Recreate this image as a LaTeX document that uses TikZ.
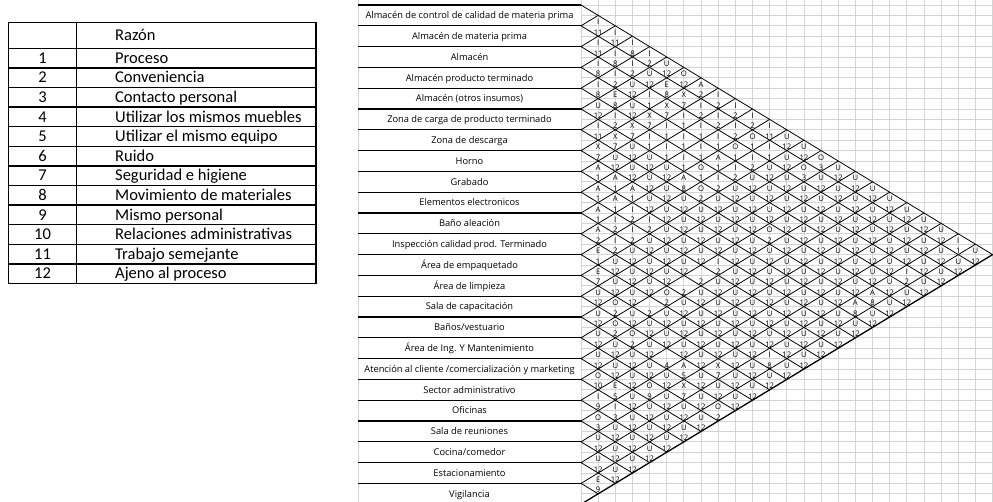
\documentclass[tikz,border=0pt]{standalone}
\usepackage{fontspec}
\setmainfont{Open Sans}
\newfontfamily\calibri{Carlito}

\begin{document}
\begin{tikzpicture}[x=1pt, y=-1pt,
    razon/.style={font=\calibri\fontsize{16.5}{18}\selectfont, inner sep=0pt, text height=10.6pt, text depth=0pt},
    area/.style={font=\fontsize{9.3}{10}\selectfont, inner sep=0pt, text height=6.6pt, text depth=0pt},
    cell/.style={font=\fontsize{7.7}{8}\selectfont, inner sep=0pt, text height=5.5pt, text depth=0pt},
    excel/.style={draw=black!17, line width=0.9pt},
    rule/.style={line width=1.3pt},
    diag/.style={line width=0.8pt}]

  \useasboundingbox (0,0) rectangle (993,502);

  % Reasons table
  \draw[rule] (8.3,22.7) rectangle (316,283.5);
  \draw[rule] (76.7,22.7) -- (76.7,283.5);
  \draw[rule] (8.3,48.3) -- (316,48.3);
  \foreach \r in {1,...,11}
    \draw[rule] (8.3,{48.3+\r*19.6}) -- (316,{48.3+\r*19.6});
  \node[razon, anchor=west] (head) at (115,35.5) {Razón};
  \foreach \t [count=\r] in {Proceso, Conveniencia, Contacto personal, Utilizar los mismos muebles,
      Utilizar el mismo equipo, Ruido, Seguridad e higiene, Movimiento de materiales,
      Mismo personal, Relaciones administrativas, Trabajo semejante, Ajeno al proceso} {
    \node[razon] (n\r) at (42.5,{48.3+(\r-0.5)*19.6}) {\r};
    \node[razon, anchor=west] (r\r) at (115,{48.3+(\r-0.5)*19.6}) {\t};
  }

  % Relationship chart
  \def\xo{581} \def\yo{5} \def\dx{17.15} \def\hh{20.8}
  \foreach \n in {0,...,24}
    \draw[excel] ({\xo+\n*\dx},0) -- ({\xo+\n*\dx},502);
  \foreach \n in {0,...,48}
    \draw[excel] (\xo,{\yo+\n*\hh/2}) -- (993,{\yo+\n*\hh/2});
  \draw[excel] (358,0) -- (358,502);

  \foreach \n in {0,...,24}
    \draw[rule] (358,{\yo+\n*\hh}) -- (\xo,{\yo+\n*\hh});
  \foreach \t [count=\i] in {Almacén de control de calidad de materia prima, Almacén de materia prima,
      Almacén, Almacén producto terminado, Almacén (otros insumos), Zona de carga de producto terminado,
      Zona de descarga, Horno, Grabado, Elementos electronicos, Baño aleación,
      Inspección calidad prod. Terminado, Área de empaquetado, Área de limpieza,
      Sala de capacitación, {Baños/vestuario}, Área de Ing. Y Mantenimiento,
      {Atención al cliente /comercialización y marketing}, Sector administrativo, Oficinas,
      Sala de reuniones, {Cocina/comedor}, Estacionamiento, Vigilancia}
    \node[area] (a\i) at (469.5,{\yo+(\i-0.5)*\hh}) {\t};

  % diamonds
  \foreach \n in {0,...,23}
    \draw[diag] (\xo,{\yo+\n*\hh}) -- ++({(24-\n)*\dx},{(24-\n)*\hh/2});
  \foreach \n in {1,...,23}
    \draw[diag] (\xo,{\yo+\n*\hh}) -- ++({\n*\dx},{-\n*\hh/2});
  \draw[rule] (\xo,{\yo+24*\hh}) -- ++({24*\dx},{-12*\hh});

  % closeness letters and reasons, one text line at a time
  \foreach \m/\row in {
      1/{I},
      2/{11,I},
      3/{I,11,I},
      4/{11,I,8,I},
      5/{I,8,I,2,U},
      6/{8,I,2,U,12,O},
      7/{I,2,U,12,E,12,A},
      8/{8,E,12,I,8,X,2,I},
      9/{U,8,U,1,X,7,I,2,I},
      10/{12,I,12,X,7,I,2,I,2,I},
      11/{I,2,X,7,I,1,I,2,I,2,I},
      12/{11,X,7,I,1,I,1,I,2,O,11,U},
      13/{X,7,U,1,I,1,I,1,O,1,I,12,U},
      14/{7,U,12,U,1,I,1,A,1,I,1,U,12,O},
      15/{A,12,U,12,U,1,O,1,I,2,U,12,O,3,U},
      16/{1,A,12,U,12,A,1,I,2,U,12,U,3,U,12,U},
      17/{A,1,A,12,U,8,O,2,U,12,U,12,U,12,U,12,U},
      18/{1,A,1,U,12,U,2,U,12,U,12,U,12,U,12,U,12,U},
      19/{A,1,I,12,U,12,U,12,U,12,U,12,U,12,U,12,U,12,U},
      20/{1,I,2,I,12,U,12,U,12,U,12,U,12,U,12,U,12,U,12,U},
      21/{A,2,I,2,U,12,U,12,U,12,O,12,U,12,U,12,U,12,U,12,U},
      22/{2,I,2,U,12,U,12,U,12,U,2,U,12,U,12,U,12,U,12,U,12,I},
      23/{E,2,U,12,U,12,U,12,U,12,U,12,U,12,U,12,U,12,U,12,U,1,U},
      24/{1,U,12,U,12,U,12,I,12,U,12,U,12,U,12,U,12,U,12,U,12,U,12},
      25/{E,12,U,12,U,12,{},2,U,12,U,12,U,12,U,12,U,12,I,12,U,12},
      26/{7,U,12,U,12,{},2,U,12,U,12,U,12,U,12,U,12,U,2,U,12},
      27/{U,12,U,12,O,2,U,12,U,12,U,12,U,12,U,12,A,12,U,12},
      28/{12,O,12,{},2,U,12,U,12,U,12,U,12,U,12,A,8,U,12},
      29/{U,2,U,2,U,12,U,12,U,12,U,12,U,12,U,8,U,12},
      30/{12,O,12,U,12,U,12,U,12,U,12,U,12,U,12,U,12},
      31/{U,2,O,12,U,12,U,12,U,12,U,12,U,12,U,12},
      32/{12,U,2,U,12,U,12,U,12,U,12,U,12,U,12},
      33/{U,12,U,12,{},12,U,12,U,12,I,12,U,12},
      34/{12,U,12,U,4,A,12,X,12,U,8,U,12},
      35/{O,12,U,12,U,5,U,7,U,12,U,12},
      36/{10,E,12,O,12,X,12,U,12,U,12},
      37/{I,5,U,9,U,7,U,12,U,12},
      38/{9,I,12,U,12,U,12,O,12},
      39/{O,3,U,12,U,12,U,2},
      40/{3,U,12,U,12,U,12},
      41/{U,12,U,12,U,12},
      42/{12,U,12,U,12},
      43/{U,12,U,12},
      44/{12,U,12},
      45/{E,12},
      46/{9}} {
    \foreach \t [count=\k] in \row
      \node[cell] (c\m-\k) at ({\xo+\k*\dx},{\yo+\m*\hh/2+6.8}) {\t};
  }

\end{tikzpicture}
\end{document}
